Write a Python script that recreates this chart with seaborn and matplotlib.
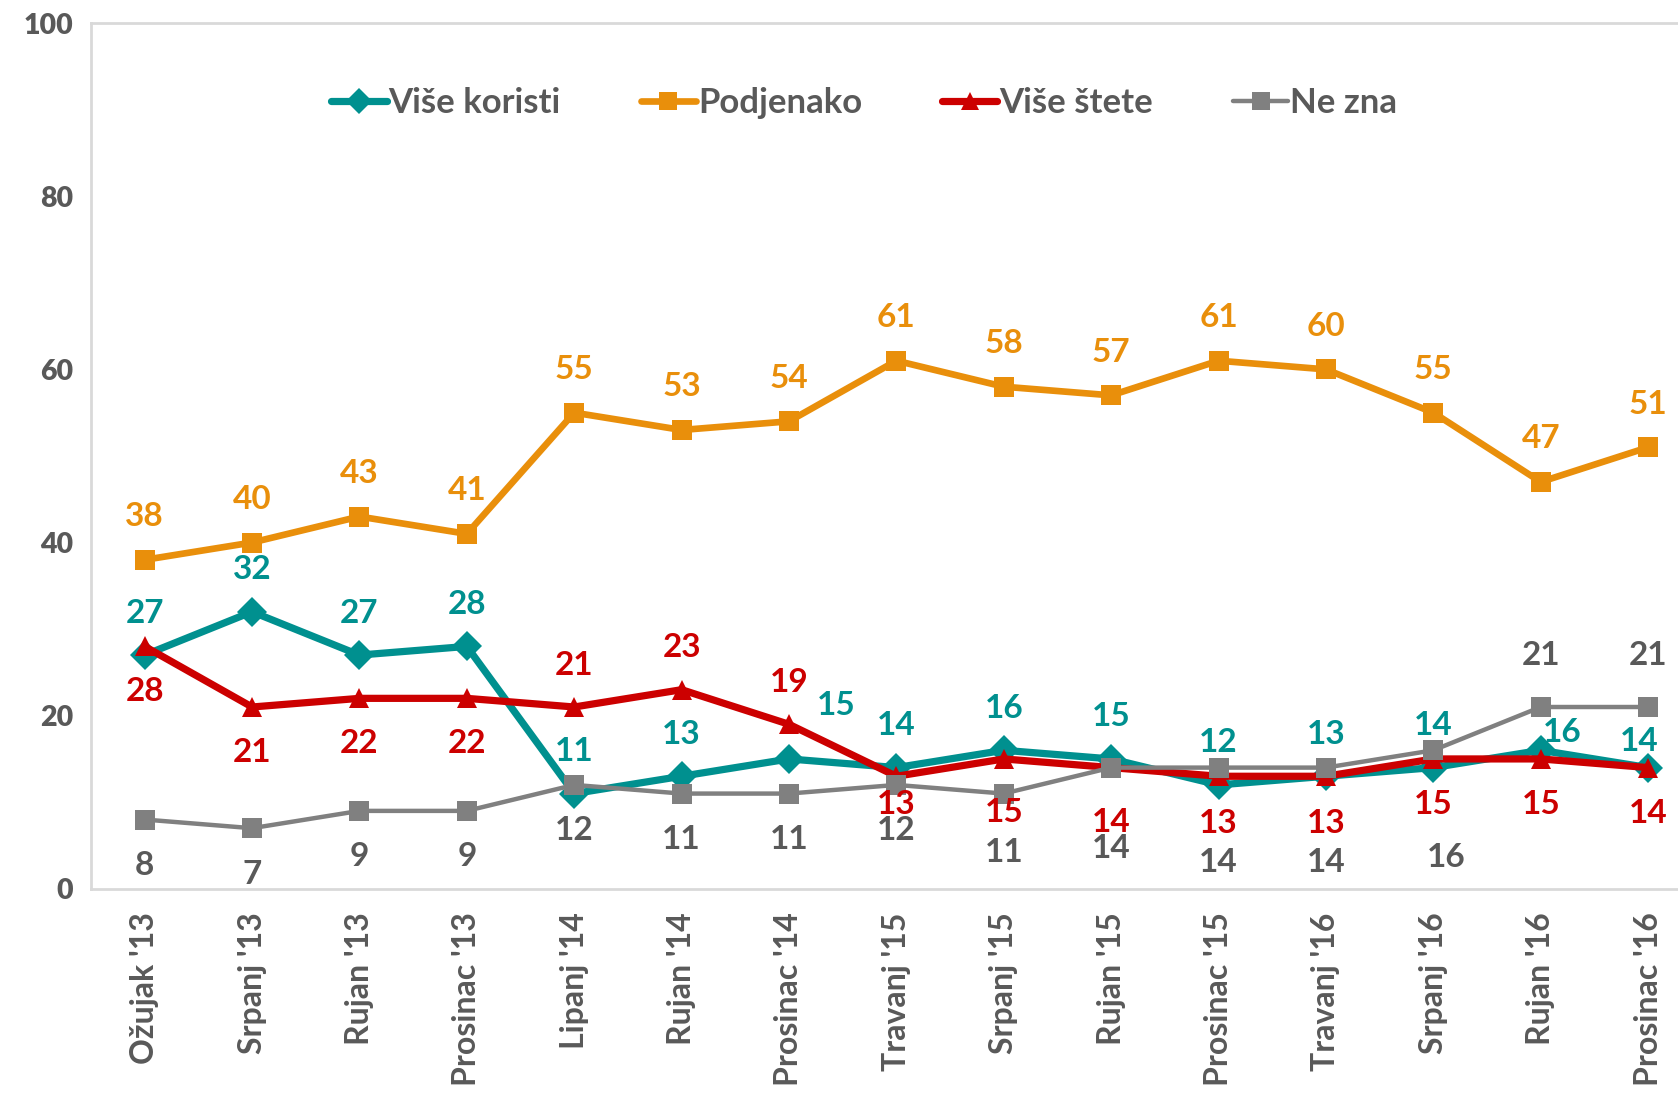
import matplotlib
matplotlib.use('Agg')

import numpy as np
import pandas as pd
import matplotlib.pyplot as plt
import seaborn as sns

# podaci
mjeseci = ["Ožujak '13", "Srpanj '13", "Rujan '13", "Prosinac '13", "Lipanj '14",
           "Rujan '14", "Prosinac '14", "Travanj '15", "Srpanj '15", "Rujan '15",
           "Prosinac '15", "Travanj '16", "Srpanj '16", "Rujan '16", "Prosinac '16"]
vise_koristi = [27, 32, 27, 28, 11, 13, 15, 14, 16, 15, 12, 13, 14, 16, 14]
podjenako = [38, 40, 43, 41, 55, 53, 54, 61, 58, 57, 61, 60, 55, 47, 51]
vise_stete = [28, 21, 22, 22, 21, 23, 19, 13, 15, 14, 13, 13, 15, 15, 14]
ne_zna = [8, 7, 9, 9, 12, 11, 11, 12, 11, 14, 14, 14, 16, 21, 21]
serije = ["Više koristi", "Podjenako", "Više štete", "Ne zna"]

# stil
boje = {"Više koristi": "#00908F", "Podjenako": "#E98F0B",
        "Više štete": "#CC0000", "Ne zna": "#808080"}
boje_teksta = {"Više koristi": "#00908F", "Podjenako": "#E98F0B",
               "Više štete": "#CC0000", "Ne zna": "#595959"}
markeri = {"Više koristi": "D", "Podjenako": "s", "Više štete": "^", "Ne zna": "s"}
debljine = {"Više koristi": 5.2, "Podjenako": 4.8, "Više štete": 5.2, "Ne zna": 3.2}

# pomaci oznaka (dx, dy) u pikselima
pomaci = {
    "Više koristi": [(0, 42)] * 6 + [(47, 53)] + [(0, 42)] * 6 + [(21, 18), (-9, 26)],
    "Podjenako": [(0, 43)] * 15,
    "Više štete": [(0, -45)] * 4 + [(0, 42)] * 3 + [(0, -28), (0, -54), (0, -55),
                                                   (0, -47), (0, -47), (0, -46), (0, -46), (0, -46)],
    "Ne zna": [(0, -46)] * 8 + [(0, -59), (0, -81), (0, -95), (0, -95), (13, -107),
                                (0, 52), (0, 52)],
}

df = pd.DataFrame({
    "mjesec": mjeseci * 4,
    "vrijednost": vise_koristi + podjenako + vise_stete + ne_zna,
    "serija": np.repeat(serije, len(mjeseci)),
})

sns.set_style("white")
plt.rcParams['font.family'] = ['Lato', 'DejaVu Sans']

fig = plt.figure(figsize=(16.78, 11), dpi=100)
ax = fig.add_axes([0.0542, 0.192, 0.96, 0.787])

sns.lineplot(data=df, x="mjesec", y="vrijednost", hue="serija", style="serija",
             size="serija", hue_order=serije, style_order=serije, size_order=serije,
             palette=boje, markers=markeri, dashes=False, sizes=debljine,
             markersize=15, markeredgewidth=0, sort=False, ax=ax, legend=True)

# oznake vrijednosti
for s, vals in zip(serije, [vise_koristi, podjenako, vise_stete, ne_zna]):
    for i, v in enumerate(vals):
        dx, dy = pomaci[s][i]
        ax.annotate(str(v), (i, v), xytext=(dx, dy), textcoords='offset pixels',
                    ha='center', va='center', fontsize=24, fontweight='bold',
                    color=boje_teksta[s])

# legenda
handles, labels = ax.get_legend_handles_labels()
ax.get_legend().remove()
for h in handles:
    h.set_markersize(13)
fig.legend(handles, labels, loc='center', bbox_to_anchor=(0.515, 0.906), ncol=4,
           frameon=False, prop={'weight': 'bold', 'size': 25},
           handlelength=1.6, handletextpad=0.05, columnspacing=2.3, labelcolor='#595959')

# osi
ax.set_xlim(-0.5, 14.5)
ax.set_ylim(0, 100)
ax.set_yticks(range(0, 101, 20))
ax.set_xlabel("")
ax.set_ylabel("")
ax.set_xticks(range(len(mjeseci)))
ax.set_xticklabels(mjeseci, rotation=90, fontweight='bold', fontsize=23, color='#595959')
ax.set_xticks(np.arange(-0.5, 15, 1), minor=True)
ax.tick_params(axis='x', which='major', length=0, pad=17)
ax.tick_params(axis='x', which='minor', length=12, width=2, color='#d9d9d9')
ax.tick_params(axis='y', length=9, width=2, color='#d9d9d9', labelsize=20.5,
               labelcolor='#595959', pad=4)
for t in ax.get_yticklabels():
    t.set_fontweight('heavy')
for sp in ax.spines.values():
    sp.set_color('#d9d9d9')
    sp.set_linewidth(2)

fig.savefig("out.png", dpi=100)
